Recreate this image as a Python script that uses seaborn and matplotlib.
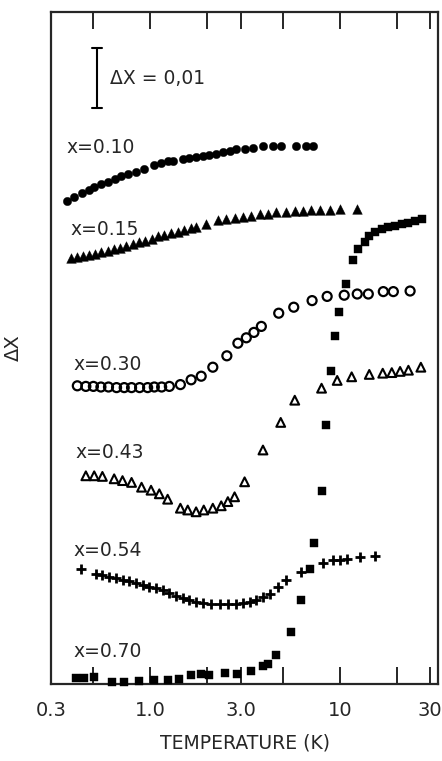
import matplotlib
matplotlib.use("Agg")
import matplotlib.pyplot as plt
import matplotlib.transforms as mtransforms
import seaborn as sns
import pandas as pd

# temperatures (K) and susceptibility change
T010 = [0.363, 0.397, 0.439, 0.477, 0.507, 0.550, 0.596, 0.654, 0.701, 0.760, 0.842,
        0.932, 1.052, 1.142, 1.237, 1.315, 1.485, 1.612, 1.748, 1.895, 2.056, 2.231,
        2.417, 2.624, 2.847, 3.150, 3.485, 3.937, 4.446, 4.925, 5.913, 6.622, 7.237]
D010 = [0.0805, 0.0812, 0.0818, 0.0823, 0.0828, 0.0833, 0.0837, 0.0842, 0.0846, 0.0850, 0.0853,
        0.0858, 0.0865, 0.0868, 0.0871, 0.0872, 0.0875, 0.0876, 0.0878, 0.0880, 0.0882, 0.0883,
        0.0886, 0.0888, 0.0892, 0.0892, 0.0893, 0.0896, 0.0897, 0.0897, 0.0896, 0.0896, 0.0896]

T015 = [0.381, 0.413, 0.445, 0.477, 0.511, 0.550, 0.596, 0.641, 0.693, 0.745, 0.808, 0.876,
        0.943, 1.018, 1.105, 1.189, 1.289, 1.398, 1.516, 1.645, 1.748, 1.975, 2.275, 2.520,
        2.789, 3.085, 3.418, 3.781, 4.183, 4.634, 5.235, 5.792, 6.408, 7.098, 7.855, 8.872,
        10.02, 12.29]
D015 = [0.0710, 0.0711, 0.0713, 0.0715, 0.0717, 0.0720, 0.0722, 0.0725, 0.0727, 0.0730, 0.0733, 0.0736,
        0.0738, 0.0742, 0.0746, 0.0748, 0.0751, 0.0754, 0.0757, 0.0760, 0.0762, 0.0767, 0.0773, 0.0775,
        0.0776, 0.0779, 0.0780, 0.0783, 0.0784, 0.0786, 0.0787, 0.0788, 0.0789, 0.0790, 0.0790, 0.0790,
        0.0791, 0.0792]

T030 = [0.413, 0.458, 0.502, 0.550, 0.603, 0.665, 0.730, 0.798, 0.880, 0.970, 1.052, 1.150,
        1.263, 1.444, 1.645, 1.859, 2.141, 2.539, 2.903, 3.216, 3.527, 3.860, 4.767, 5.722,
        7.149, 8.584, 10.56, 12.37, 14.15, 16.98, 19.18, 23.51]
D030 = [0.0497, 0.0496, 0.0496, 0.0495, 0.0495, 0.0494, 0.0494, 0.0494, 0.0494, 0.0494, 0.0495, 0.0495,
        0.0496, 0.0499, 0.0507, 0.0513, 0.0528, 0.0547, 0.0568, 0.0577, 0.0586, 0.0596, 0.0618, 0.0628,
        0.0639, 0.0646, 0.0648, 0.0650, 0.0650, 0.0654, 0.0654, 0.0655]

T043 = [0.458, 0.507, 0.560, 0.646, 0.715, 0.798, 0.901, 1.011, 1.118, 1.237, 1.444, 1.579,
        1.748, 1.918, 2.141, 2.371, 2.570, 2.789, 3.150, 3.937, 4.884, 5.792, 8.020, 9.696,
        11.56, 14.32, 16.86, 18.82, 20.82, 23.03, 26.79]
D043 = [0.0347, 0.0347, 0.0346, 0.0342, 0.0339, 0.0336, 0.0328, 0.0323, 0.0317, 0.0308, 0.0293, 0.0290,
        0.0287, 0.0290, 0.0293, 0.0297, 0.0304, 0.0312, 0.0337, 0.0390, 0.0436, 0.0473, 0.0493, 0.0506,
        0.0512, 0.0516, 0.0518, 0.0519, 0.0521, 0.0523, 0.0528]

T054 = [0.431, 0.521, 0.560, 0.608, 0.660, 0.715, 0.776, 0.842, 0.912, 0.990, 1.074, 1.164,
        1.263, 1.370, 1.485, 1.612, 1.748, 1.895, 2.099, 2.323, 2.570, 2.847, 3.085, 3.347,
        3.633, 3.937, 4.271, 4.727, 5.235, 6.286, 8.177, 9.237, 10.02, 10.87, 12.79, 15.35]
D054 = [0.0191, 0.0183, 0.0182, 0.0179, 0.0176, 0.0173, 0.0171, 0.0168, 0.0165, 0.0162, 0.0160, 0.0157,
        0.0151, 0.0146, 0.0143, 0.0140, 0.0137, 0.0135, 0.0133, 0.0133, 0.0133, 0.0133, 0.0135, 0.0137,
        0.0140, 0.0145, 0.0150, 0.0161, 0.0173, 0.0186, 0.0202, 0.0206, 0.0207, 0.0208, 0.0211, 0.0213]

T070 = [0.405, 0.448, 0.507, 0.633, 0.730, 0.876, 1.052, 1.237, 1.427, 1.645, 1.859, 2.056,
        2.468, 2.868, 3.418, 3.937, 4.169, 4.634, 5.565, 6.286, 7.012, 7.299, 8.020, 8.450,
        8.949, 9.430, 9.936, 10.78, 11.78, 12.52, 13.59, 14.32, 15.35, 16.66, 18.05, 19.58,
        21.26, 23.03, 24.99, 27.12]
D070 = [0.0010, 0.0010, 0.0012, 0.0004, 0.0004, 0.0005, 0.0007, 0.0006, 0.0008, 0.0015, 0.0017, 0.0015,
        0.0018, 0.0017, 0.0021, 0.0030, 0.0033, 0.0048, 0.0087, 0.0140, 0.0191, 0.0235, 0.0322, 0.0431,
        0.0522, 0.0580, 0.0620, 0.0666, 0.0706, 0.0725, 0.0737, 0.0746, 0.0754, 0.0758, 0.0761, 0.0763,
        0.0767, 0.0769, 0.0772, 0.0775]

labels = ["x=0.10", "x=0.15", "x=0.30", "x=0.43", "x=0.54", "x=0.70"]
major_ticks = [0.3, 1.0, 3.0, 10, 30]
major_labels = ["0.3", "1.0", "3.0", "10", "30"]
minor_ticks = [0.5, 2, 5, 20]

sns.set_style("ticks")
plt.rcParams["font.family"] = ["DejaVu Sans"]

fig = plt.figure(figsize=(4.42, 7.61), dpi=100)
ax = fig.add_axes([0.1154, 0.1012, 0.8756, 0.883])

series = [
    (T010, D010, dict(marker="o", s=36, color="black", edgecolor="black", linewidth=0.3)),
    (T015, D015, dict(marker="^", s=48, color="black", edgecolor="black", linewidth=0.3)),
    (T030, D030, dict(marker="o", s=42, facecolor="none", edgecolor="black", linewidth=1.6)),
    (T043, D043, dict(marker="^", s=40, facecolor="none", edgecolor="black", linewidth=1.5)),
    (T054, D054, dict(marker="+", s=55, color="black", linewidth=2.0)),
    (T070, D070, dict(marker="s", s=34, color="black", edgecolor="black", linewidth=0.3)),
]
for t, d, kw in series:
    df = pd.DataFrame({"T": t, "dchi": d})
    sns.scatterplot(data=df, x="T", y="dchi", ax=ax, clip_on=False, zorder=3, **kw)

ax.set_xscale("log")
ax.set_xlim(0.3, 33)
ax.set_ylim(0, 0.112)

ax.set_xticks(major_ticks)
ax.set_xticklabels(major_labels)
ax.set_xticks(minor_ticks, minor=True)
ax.xaxis.set_minor_formatter(plt.NullFormatter())
ax.tick_params(axis="x", which="both", direction="in", top=True, bottom=True,
               length=12, width=1.4, labelsize=14, pad=12)
ax.tick_params(axis="y", left=False, labelleft=False)
for sp in ax.spines.values():
    sp.set_linewidth(1.6)

ax.set_xlabel("TEMPERATURE (K)", fontsize=13.5, labelpad=10)
ax.set_ylabel("ΔΧ", fontsize=14, labelpad=20)

# series labels
label_pos = [(0.041, 0.799), (0.049, 0.676), (0.057, 0.475),
             (0.062, 0.344), (0.059, 0.199), (0.059, 0.048)]
for lab, (xf, yf) in zip(labels, label_pos):
    ax.text(xf, yf, lab, transform=ax.transAxes, fontsize=13.5, va="center", ha="left")

# scale bar for delta chi = 0.01
trans = mtransforms.blended_transform_factory(ax.transAxes, ax.transData)
ax.plot([0.119, 0.119], [0.096, 0.106], color="black", lw=1.5, transform=trans)
ax.plot([0.106, 0.132], [0.096, 0.096], color="black", lw=1.5, transform=trans)
ax.plot([0.106, 0.132], [0.106, 0.106], color="black", lw=1.5, transform=trans)
ax.text(0.152, 0.101, "ΔΧ = 0,01", transform=trans, fontsize=13.5, va="center", ha="left")

fig.savefig("out.png", dpi=100)
